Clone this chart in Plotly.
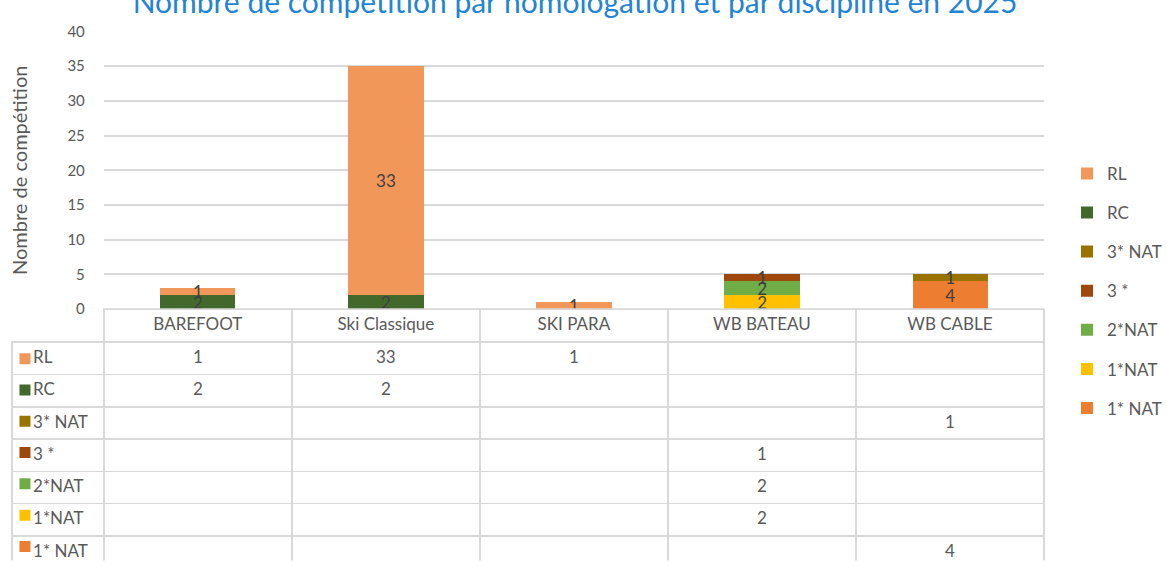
import plotly.graph_objects as go

categories = ["BAREFOOT", "Ski Classique", "SKI PARA", "WB BATEAU", "WB CABLE"]
series_names = ["RL", "RC", "3* NAT", "3 *", "2*NAT", "1*NAT", "1* NAT"]
series_values = {
    "RL":     [1, 33, 1, None, None],
    "RC":     [2, 2, None, None, None],
    "3* NAT": [None, None, None, None, 1],
    "3 *":    [None, None, None, 1, None],
    "2*NAT":  [None, None, None, 2, None],
    "1*NAT":  [None, None, None, 2, None],
    "1* NAT": [None, None, None, None, 4],
}
series_colors = {
    "RL": "#F1975A",
    "RC": "#43682B",
    "3* NAT": "#997300",
    "3 *": "#9E480E",
    "2*NAT": "#70AD47",
    "1*NAT": "#FFC000",
    "1* NAT": "#ED7D31",
}
y_ticks = [0, 5, 10, 15, 20, 25, 30, 35, 40]
title_text = "Nombre de compétition par homologation et par discipline en 2025"
y_title = "Nombre de compétition"

FONT = "Lato, 'Open Sans', sans-serif"
GRAY = "#595959"
LINE = "#D9D9D9"
CLEAR = "rgba(0,0,0,0)"
W, H = 1167, 569

# layout geometry (pixels)
PLOT_L, PLOT_R, PLOT_T, PLOT_B = 104, 1046, 22, 309
TABLE_L = 12
HEADER_H = 33
ROW_H = 32.3
n_rows = len(series_names)
key_top = PLOT_B + HEADER_H + 2   # colour-key overlay starts slightly below the header

fig = go.Figure()

# stacked bars: bottom series first
for name in reversed(series_names):
    vals = series_values[name]
    fig.add_trace(go.Bar(
        x=categories, y=vals, name=name, legendgroup=name,
        legendrank=series_names.index(name) + 1,
        marker=dict(color=series_colors[name], line=dict(width=0)),
        text=[("" if v is None else str(v)) for v in vals],
        textposition="inside", insidetextanchor="middle", textangle=0,
        textfont=dict(color="#404040", size=17, family=FONT),
        constraintext="none",
        hoverinfo="skip",
    ))

# data table under the chart
NBSP = "\u00a0"
col_vals = [[NBSP * 3 + n.replace(" ", NBSP) for n in series_names]]
for i, c in enumerate(categories):
    col_vals.append([("" if series_values[n][i] is None else str(series_values[n][i])) for n in series_names])

n_cols = len(categories)
fig.add_trace(go.Table(
    domain=dict(x=[TABLE_L / W, PLOT_R / W], y=[0, 1 - PLOT_B / H]),
    columnwidth=[PLOT_L - TABLE_L] + [(PLOT_R - PLOT_L) / n_cols] * n_cols,
    header=dict(
        values=[""] + categories,
        height=HEADER_H,
        fill=dict(color=[CLEAR] + ["white"] * n_cols),
        line=dict(color=[CLEAR] + [LINE] * n_cols, width=1.5),
        font=dict(family=FONT, size=17, color=GRAY),
        align="center",
    ),
    cells=dict(
        values=col_vals,
        height=ROW_H,
        fill=dict(color=[CLEAR] + ["white"] * n_cols),
        line=dict(color=LINE, width=1.5),
        font=dict(family=FONT, size=17, color=GRAY),
        align=["left"] + ["center"] * n_cols,
    ),
))

# colour keys in the table's first column (overlay axes aligned with the rows)
fig.add_trace(go.Scatter(
    x=[13] * n_rows, y=[i + 0.5 for i in range(n_rows)],
    mode="markers", xaxis="x2", yaxis="y2", showlegend=False, hoverinfo="skip",
    marker=dict(symbol="square", size=11, color=[series_colors[n] for n in series_names],
                line=dict(width=0)),
))

fig.update_layout(
    width=W, height=H,
    margin=dict(l=0, r=0, t=0, b=0),
    paper_bgcolor="white", plot_bgcolor="white",
    barmode="stack", bargap=0.6,
    font=dict(family=FONT, color=GRAY, size=15),
    uniformtext=dict(minsize=17, mode="show"),
    title=dict(text=title_text, x=(133 + 1017) / 2 / W, xanchor="center",
               y=1 - 2.5 / H, yanchor="middle",
               font=dict(family=FONT, size=30, color="#2384D6")),
    xaxis=dict(domain=[PLOT_L / W, PLOT_R / W], showticklabels=False, showgrid=False,
               showline=False, zeroline=False, ticks="", fixedrange=True),
    yaxis=dict(domain=[1 - PLOT_B / H, 1 - PLOT_T / H], range=[0, 40], tickvals=y_ticks,
               showgrid=True, gridcolor=LINE, gridwidth=1.5, zeroline=False,
               showline=False, ticks="", ticklabelstandoff=18, fixedrange=True,
               tickfont=dict(family=FONT, size=15, color=GRAY),
               title=dict(text=y_title, standoff=34,
                          font=dict(family=FONT, size=20, color=GRAY))),
    xaxis2=dict(domain=[TABLE_L / W, PLOT_L / W], range=[0, PLOT_L - TABLE_L],
                visible=False, fixedrange=True),
    yaxis2=dict(domain=[0, 1 - key_top / H], range=[(H - key_top) / ROW_H, 0],
                visible=False, fixedrange=True),
    legend=dict(x=1069 / W, xanchor="left", y=1 - 290 / H, yanchor="middle",
                traceorder="grouped", tracegroupgap=14,
                font=dict(family=FONT, size=17, color=GRAY),
                itemwidth=30, bgcolor=CLEAR),
    showlegend=True,
)

fig.write_html("out.html", config={"displayModeBar": False},
               post_script="document.body.style.margin='0';")
